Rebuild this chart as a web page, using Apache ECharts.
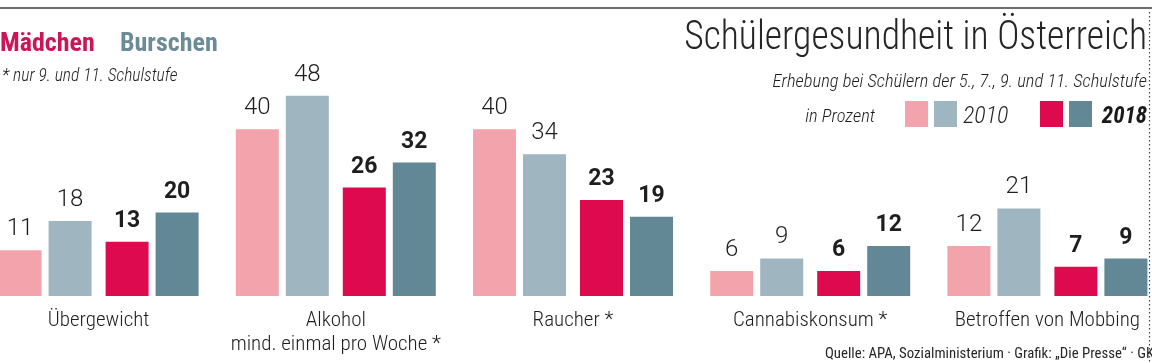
<!DOCTYPE html>
<html><head><meta charset="utf-8">
<script src="https://cdn.jsdelivr.net/npm/echarts@6/dist/echarts.min.js"></script>
<style>html,body{margin:0;padding:0;background:#fff}#c{width:1152px;height:363px}</style>
</head><body><div id="c"></div>
<script>
// ---- data ----
const categories = ['Übergewicht', 'Alkohol\nmind. einmal pro Woche *', 'Raucher *', 'Cannabiskonsum *', 'Betroffen von Mobbing'];
const maedchen2010 = [11, 40, 40, 6, 12];
const burschen2010 = [18, 48, 34, 9, 21];
const maedchen2018 = [13, 26, 23, 6, 7];
const burschen2018 = [20, 32, 19, 12, 9];
const yearLabels = ['2010', '2018'];
const groupLabels = ['Mädchen', 'Burschen'];

// ---- styles ----
const C = {
  m10: '#f2a3ab', b10: '#9fb5c0', m18: '#de0a50', b18: '#628896',
  mText: '#cc1557', bText: '#6b8c97', ink: '#1e1e1e'
};
const COND = '"Roboto Condensed", "DejaVu Sans Condensed", sans-serif';
const BAR_W = 43;
const GAP = '16.28%';

const regLabel = { show: true, position: 'top', distance: 9, color: C.ink, fontFamily: 'Roboto', fontWeight: 300, fontSize: 24 };
const boldLabel = { show: true, position: 'top', distance: 9, color: C.ink, fontFamily: 'Roboto', fontWeight: 700, fontSize: 23 };

function bar(name, data, color, label) {
  return { type: 'bar', name, data, barWidth: BAR_W, barGap: GAP, itemStyle: { color }, label, silent: true, animation: false };
}

const chart = echarts.init(document.getElementById('c'));
chart.setOption({
  animation: false,
  grid: { left: -20, right: -14, top: 87.5, bottom: 67, containLabel: false, outerBoundsMode: 'none' },
  xAxis: {
    type: 'category', data: categories,
    axisLine: { show: false }, axisTick: { show: false },
    axisLabel: { interval: 0, margin: 13, color: C.ink, fontFamily: COND, fontWeight: 300, fontSize: 21, lineHeight: 24 }
  },
  yAxis: { type: 'value', min: 0, max: 50, show: false, splitLine: { show: false } },
  series: [
    bar(groupLabels[0] + ' ' + yearLabels[0], maedchen2010, C.m10, regLabel),
    bar(groupLabels[1] + ' ' + yearLabels[0], burschen2010, C.b10, regLabel),
    { type: 'bar', name: 'spacer', data: categories.map(() => null), barWidth: 6.02, barGap: GAP, silent: true },
    bar(groupLabels[0] + ' ' + yearLabels[1], maedchen2018, C.m18, boldLabel),
    bar(groupLabels[1] + ' ' + yearLabels[1], burschen2018, C.b18, boldLabel)
  ],
  graphic: [
    { type: 'line', shape: { x1: 0, y1: 8, x2: 1152, y2: 8 }, style: { stroke: '#6e6e6e', lineWidth: 2 } },
    { type: 'line', shape: { x1: 1149.5, y1: 12, x2: 1149.5, y2: 363 }, style: { stroke: '#444', lineWidth: 1.2, lineDash: [1.5, 2.5] } },
    { type: 'text', x: 1147, y: 39, scaleX: 0.94, style: { text: 'Schülergesundheit in Österreich', align: 'right', textAlign: 'right', verticalAlign: 'middle', textVerticalAlign: 'middle', font: '300 40px ' + COND, fill: '#262626' } },
    { type: 'text', x: 1147, y: 82, style: { text: 'Erhebung bei Schülern der 5., 7., 9. und 11. Schulstufe', align: 'right', textAlign: 'right', verticalAlign: 'middle', textVerticalAlign: 'middle', font: 'italic 300 18.5px ' + COND, fill: '#1e1e1e' } },
    { type: 'text', x: 875, y: 117, style: { text: 'in Prozent', align: 'right', textAlign: 'right', verticalAlign: 'middle', textVerticalAlign: 'middle', font: 'italic 300 18.5px ' + COND, fill: '#1e1e1e' } },
    { type: 'rect', shape: { x: 905, y: 101, width: 23, height: 26 }, style: { fill: C.m10 } },
    { type: 'rect', shape: { x: 934, y: 101, width: 23, height: 26 }, style: { fill: C.b10 } },
    { type: 'text', x: 963, y: 117, style: { text: yearLabels[0], align: 'left', textAlign: 'left', verticalAlign: 'middle', textVerticalAlign: 'middle', font: 'italic 300 24px ' + COND, fill: '#262626' } },
    { type: 'rect', shape: { x: 1040, y: 101, width: 23, height: 26 }, style: { fill: C.m18 } },
    { type: 'rect', shape: { x: 1069, y: 101, width: 23, height: 26 }, style: { fill: C.b18 } },
    { type: 'text', x: 1147, y: 117, style: { text: yearLabels[1], align: 'right', textAlign: 'right', verticalAlign: 'middle', textVerticalAlign: 'middle', font: 'italic 700 23px ' + COND, fill: '#1a1a1a' } },
    { type: 'text', x: 0, y: 44, style: { text: groupLabels[0], align: 'left', textAlign: 'left', verticalAlign: 'middle', textVerticalAlign: 'middle', font: '700 26px ' + COND, fill: C.mText } },
    { type: 'text', x: 120, y: 44, style: { text: groupLabels[1], align: 'left', textAlign: 'left', verticalAlign: 'middle', textVerticalAlign: 'middle', font: '700 26px ' + COND, fill: C.bText } },
    { type: 'text', x: 2, y: 77, style: { text: '* nur 9. und 11. Schulstufe', align: 'left', textAlign: 'left', verticalAlign: 'middle', textVerticalAlign: 'middle', font: 'italic 300 17.5px ' + COND, fill: '#1e1e1e' } },
    { type: 'text', x: 1154, y: 354, style: { text: 'Quelle: APA, Sozialministerium · Grafik: „Die Presse“ · GK', align: 'right', textAlign: 'right', verticalAlign: 'middle', textVerticalAlign: 'middle', font: '400 14.8px ' + COND, fill: '#262626' } }
  ]
});
</script></body></html>
